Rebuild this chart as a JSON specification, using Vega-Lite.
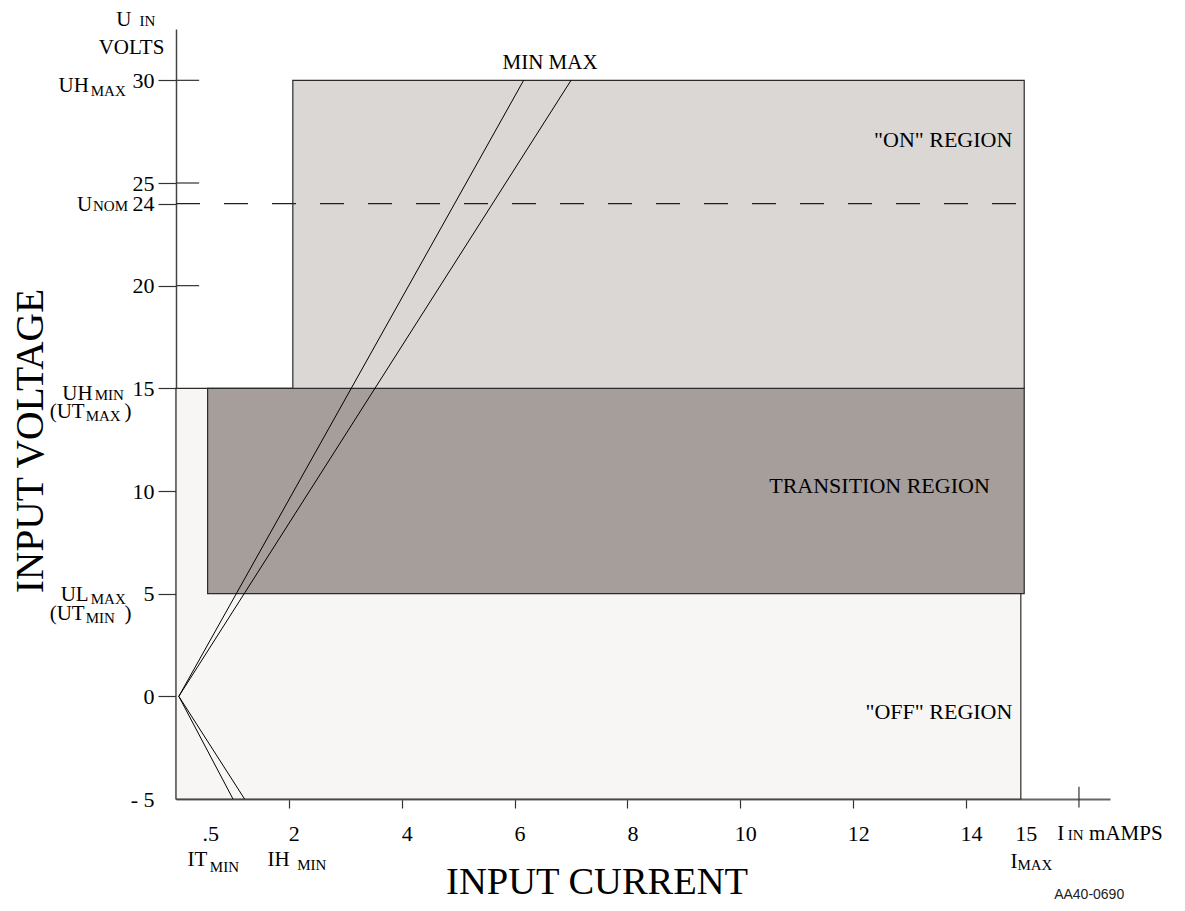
{
  "$schema": "https://vega.github.io/schema/vega-lite/v6.json",
  "width": 934,
  "height": 770,
  "autosize": {"type": "none"},
  "padding": {"left": 176, "top": 29, "right": 75, "bottom": 112},
  "background": "white",
  "config": {"view": {"stroke": null}, "font": "Liberation Serif"},
  "datasets": {
    "regions": [
      {"region": "OFF", "i": 0, "i2": 14.97, "u": -5, "u2": 15},
      {"region": "TRANSITION", "i": 0.56, "i2": 15.03, "u": 5, "u2": 15},
      {"region": "ON", "i": 2.07, "i2": 15.03, "u": 15, "u2": 30}
    ],
    "nominal": [{"u": 24, "i": 0, "i2": 15}],
    "tickext": [
      {"i": 0, "i2": 0.41, "u": 30, "u2": 30},
      {"i": 0, "i2": 0.41, "u": 25, "u2": 25},
      {"i": 0, "i2": 0.41, "u": 20, "u2": 20},
      {"i": 16, "i2": 16, "u": -5.42, "u2": -4.4}
    ],
    "curves": [
      {"series": "min_on", "i": 0.05, "u": 0},
      {"series": "min_on", "i": 6.16, "u": 30},
      {"series": "max_on", "i": 0.05, "u": 0},
      {"series": "max_on", "i": 7.0, "u": 30},
      {"series": "min_neg", "i": 0.05, "u": 0},
      {"series": "min_neg", "i": 1.01, "u": -5},
      {"series": "max_neg", "i": 0.05, "u": 0},
      {"series": "max_neg", "i": 1.215, "u": -5}
    ],
    "regionLabels": [
      {"text": "\"ON\" REGION", "i": 14.82, "u": 26.76},
      {"text": "TRANSITION REGION", "i": 14.42, "u": 9.91},
      {"text": "\"OFF\" REGION", "i": 14.82, "u": -1.1}
    ],
    "bigLabels": [
      {"text": "U", "i": -1.058, "u": 32.67},
      {"text": "VOLTS", "i": -1.371, "u": 31.3},
      {"text": "UH", "i": -2.08, "u": 29.41},
      {"text": "U", "i": -1.756, "u": 23.66},
      {"text": "UH", "i": -2.014, "u": 14.45},
      {"text": "(UT", "i": -2.239, "u": 13.56},
      {"text": ")", "i": -0.911, "u": 13.56},
      {"text": "UL", "i": -2.044, "u": 4.63},
      {"text": "(UT", "i": -2.239, "u": 3.74},
      {"text": ")", "i": -0.911, "u": 3.74},
      {"text": "IT", "i": 0.205, "u": -8.28},
      {"text": "IH", "i": 1.623, "u": -8.28},
      {"text": "I", "i": 14.785, "u": -8.34},
      {"text": "I", "i": 15.617, "u": -7.01},
      {"text": "mAMPS", "i": 16.18, "u": -7.01},
      {"text": "MIN MAX", "i": 5.786, "u": 30.53}
    ],
    "smallLabels": [
      {"text": "IN", "i": -0.645, "u": 32.67},
      {"text": "MAX", "i": -1.51, "u": 29.26},
      {"text": "NOM", "i": -1.47, "u": 23.66},
      {"text": "MIN", "i": -1.44, "u": 14.45},
      {"text": "MAX", "i": -1.6, "u": 13.4},
      {"text": "MAX", "i": -1.51, "u": 4.51},
      {"text": "MIN", "i": -1.6, "u": 3.57},
      {"text": "MIN", "i": 0.6, "u": -8.57},
      {"text": "MIN", "i": 2.149, "u": -8.44},
      {"text": "MAX", "i": 14.91, "u": -8.44},
      {"text": "IN", "i": 15.8, "u": -7.01}
    ],
    "code": [{"text": "AA40-0690", "i": 15.56, "u": -9.85}]
  },
  "layer": [
    {
      "data": {"name": "regions"},
      "mark": {"type": "rect", "stroke": "#2b2b2b", "strokeWidth": 1.2},
      "encoding": {
        "x": {
          "field": "i", "type": "quantitative",
          "scale": {"domain": [0, 16.55], "nice": false, "zero": false},
          "axis": {
            "values": [0.52, 2, 4, 6, 8, 10, 12, 14, 14.97],
            "labelExpr": "datum.value < 1 ? '.5' : (datum.value > 14.5 ? '15' : format(datum.value, 'd'))",
            "labelFont": "Liberation Serif", "labelFontSize": 22, "labelColor": "black",
            "labelOffset": 5, "labelPadding": 15,
            "labelOverlap": false, "labelBound": false, "labelFlush": false,
            "tickSize": 9, "tickColor": "#333", "tickWidth": 1.2,
            "tickOpacity": {"condition": {"test": "datum.value < 1 || datum.value > 14.5", "value": 0}, "value": 1},
            "domainColor": "#666", "domainWidth": 2, "grid": false,
            "title": "INPUT CURRENT",
            "titleFont": "Liberation Serif", "titleFontSize": 38.5, "titleFontWeight": "normal", "titleColor": "black",
            "titleX": 420.6, "titleY": 94.6, "titleAlign": "center", "titleBaseline": "alphabetic"
          }
        },
        "x2": {"field": "i2"},
        "y": {
          "field": "u", "type": "quantitative",
          "scale": {"domain": [-5, 32.5], "nice": false, "zero": false},
          "axis": {
            "values": [-5, 0, 5, 10, 15, 20, 24, 25, 30],
            "labelExpr": "datum.value == -5 ? '- 5' : datum.label",
            "labelFont": "Liberation Serif", "labelFontSize": 22, "labelColor": "black",
            "labelPadding": 4, "labelOverlap": false, "labelBound": false, "labelFlush": false,
            "tickSize": 18, "tickColor": "#333", "tickWidth": 1.2,
            "tickOpacity": {"condition": {"test": "datum.value == -5", "value": 0}, "value": 1},
            "domainColor": "#444", "domainWidth": 1.5, "grid": false,
            "title": "INPUT VOLTAGE",
            "titleFont": "Liberation Serif", "titleFontSize": 39.5, "titleFontWeight": "normal", "titleColor": "black",
            "titleX": -134, "titleY": 411.6, "titleAngle": 270, "titleAlign": "center", "titleBaseline": "alphabetic"
          }
        },
        "y2": {"field": "u2"},
        "fill": {
          "field": "region", "type": "nominal",
          "scale": {"domain": ["OFF", "TRANSITION", "ON"], "range": ["#f7f6f5", "#a59e9b", "#dbd7d4"]},
          "legend": null
        }
      }
    },
    {
      "data": {"name": "nominal"},
      "mark": {"type": "rule", "color": "#222", "strokeWidth": 1.2, "strokeDash": [24, 24]},
      "encoding": {
        "x": {"field": "i", "type": "quantitative", "scale": {"domain": [0, 16.55], "nice": false, "zero": false}},
        "x2": {"field": "i2"},
        "y": {"field": "u", "type": "quantitative", "scale": {"domain": [-5, 32.5], "nice": false, "zero": false}}
      }
    },
    {
      "data": {"name": "tickext"},
      "mark": {"type": "rule", "color": "#333", "strokeWidth": 1.2},
      "encoding": {
        "x": {"field": "i", "type": "quantitative", "scale": {"domain": [0, 16.55], "nice": false, "zero": false}},
        "x2": {"field": "i2"},
        "y": {"field": "u", "type": "quantitative", "scale": {"domain": [-5, 32.5], "nice": false, "zero": false}},
        "y2": {"field": "u2"}
      }
    },
    {
      "data": {"name": "curves"},
      "mark": {"type": "line", "color": "black", "strokeWidth": 1},
      "encoding": {
        "x": {"field": "i", "type": "quantitative", "scale": {"domain": [0, 16.55], "nice": false, "zero": false}},
        "y": {"field": "u", "type": "quantitative", "scale": {"domain": [-5, 32.5], "nice": false, "zero": false}},
        "detail": {"field": "series", "type": "nominal"}
      }
    },
    {
      "data": {"name": "regionLabels"},
      "mark": {"type": "text", "font": "Liberation Serif", "fontSize": 22, "color": "black", "align": "right", "baseline": "alphabetic"},
      "encoding": {
        "x": {"field": "i", "type": "quantitative", "scale": {"domain": [0, 16.55], "nice": false, "zero": false}},
        "y": {"field": "u", "type": "quantitative", "scale": {"domain": [-5, 32.5], "nice": false, "zero": false}},
        "text": {"field": "text"}
      }
    },
    {
      "data": {"name": "bigLabels"},
      "mark": {"type": "text", "font": "Liberation Serif", "fontSize": 21, "color": "black", "align": "left", "baseline": "alphabetic"},
      "encoding": {
        "x": {"field": "i", "type": "quantitative", "scale": {"domain": [0, 16.55], "nice": false, "zero": false}},
        "y": {"field": "u", "type": "quantitative", "scale": {"domain": [-5, 32.5], "nice": false, "zero": false}},
        "text": {"field": "text"}
      }
    },
    {
      "data": {"name": "smallLabels"},
      "mark": {"type": "text", "font": "Liberation Serif", "fontSize": 15, "color": "black", "align": "left", "baseline": "alphabetic"},
      "encoding": {
        "x": {"field": "i", "type": "quantitative", "scale": {"domain": [0, 16.55], "nice": false, "zero": false}},
        "y": {"field": "u", "type": "quantitative", "scale": {"domain": [-5, 32.5], "nice": false, "zero": false}},
        "text": {"field": "text"}
      }
    },
    {
      "data": {"name": "code"},
      "mark": {"type": "text", "font": "Liberation Sans", "fontSize": 14, "color": "#222", "align": "left", "baseline": "alphabetic"},
      "encoding": {
        "x": {"field": "i", "type": "quantitative", "scale": {"domain": [0, 16.55], "nice": false, "zero": false}},
        "y": {"field": "u", "type": "quantitative", "scale": {"domain": [-5, 32.5], "nice": false, "zero": false}},
        "text": {"field": "text"}
      }
    }
  ]
}
